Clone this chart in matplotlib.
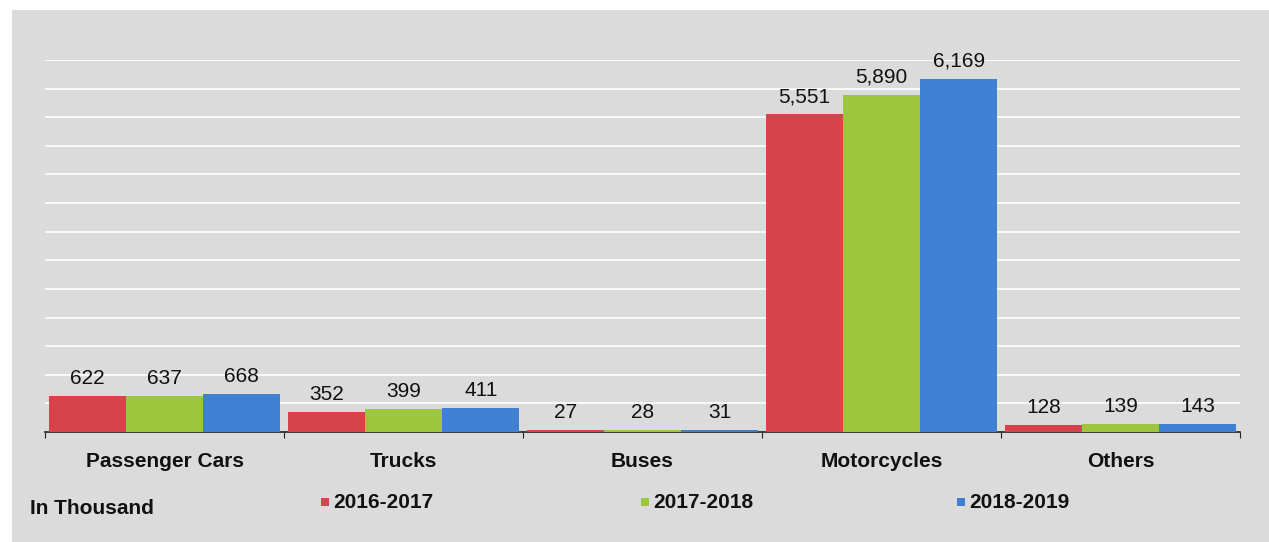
import matplotlib
matplotlib.use("Agg")
import matplotlib.pyplot as plt
from matplotlib.patches import Rectangle
import numpy as np

plt.rcParams["font.family"] = ["Liberation Sans", "DejaVu Sans"]

categories = ["Passenger Cars", "Trucks", "Buses", "Motorcycles", "Others"]
series_names = ["2016-2017", "2017-2018", "2018-2019"]
v_2016_17 = [622, 352, 27, 5551, 128]
v_2017_18 = [637, 399, 28, 5890, 139]
v_2018_19 = [668, 411, 31, 6169, 143]
colors = ["#d8434b", "#9cc63e", "#3f80d2"]

W, H = 1269, 542
fig = plt.figure(figsize=(W / 100, H / 100), dpi=100)
fig.patch.set_facecolor("white")
fig.patches.append(Rectangle((12 / W, 0), 1, (H - 10) / H, transform=fig.transFigure,
                             facecolor="#dbdbdb", edgecolor="none", zorder=-10))

ax = fig.add_axes([45 / W, (H - 432) / H, (1240 - 45) / W, (432 - 60) / H])
ax.set_facecolor("none")
ax.set_zorder(5)

x = np.arange(len(categories))
bw = 0.323
for i, (vals, c) in enumerate(zip([v_2016_17, v_2017_18, v_2018_19], colors)):
    pos = x + (i - 1) * bw
    ax.bar(pos, vals, width=bw, color=c, zorder=3, label=series_names[i])
    for px, v in zip(pos, vals):
        ax.text(px, v + 140, f"{v:,}", ha="center", va="bottom", fontsize=15,
                color="#111111", zorder=4)

ax.set_xlim(-0.5, len(categories) - 0.5)
ax.set_ylim(0, 6500)
ax.set_yticks(np.arange(500, 6501, 500))
ax.yaxis.grid(True, color="white", linewidth=1.2, zorder=1)
ax.tick_params(axis="y", left=False, labelleft=False)
for s in ["left", "right", "top"]:
    ax.spines[s].set_visible(False)
ax.spines["bottom"].set_color("#222222")
ax.spines["bottom"].set_linewidth(1.2)
ax.set_xticks(np.arange(-0.5, len(categories), 1.0))
ax.set_xticklabels([])
ax.tick_params(axis="x", length=4, color="#222222", direction="out")
for xi, cat in zip(x, categories):
    ax.text(xi, -0.078, cat, transform=ax.get_xaxis_transform(), ha="center",
            va="center", fontsize=15, fontweight="bold", color="#111111")

fig.text(30 / W, (H - 509) / H, "In Thousand", ha="left", va="center",
         fontsize=15, fontweight="bold", color="#111111", zorder=6)
leg_x = [321, 641, 957]
for lx, name, c in zip(leg_x, series_names, colors):
    fig.patches.append(Rectangle((lx / W, (H - 506) / H), 8 / W, 8 / H,
                                 transform=fig.transFigure, facecolor=c,
                                 edgecolor="none", zorder=6))
    fig.text((lx + 12) / W, (H - 502) / H, name, ha="left", va="center",
             fontsize=15, fontweight="bold", color="#111111", zorder=6)

fig.savefig("out.png", dpi=100)
